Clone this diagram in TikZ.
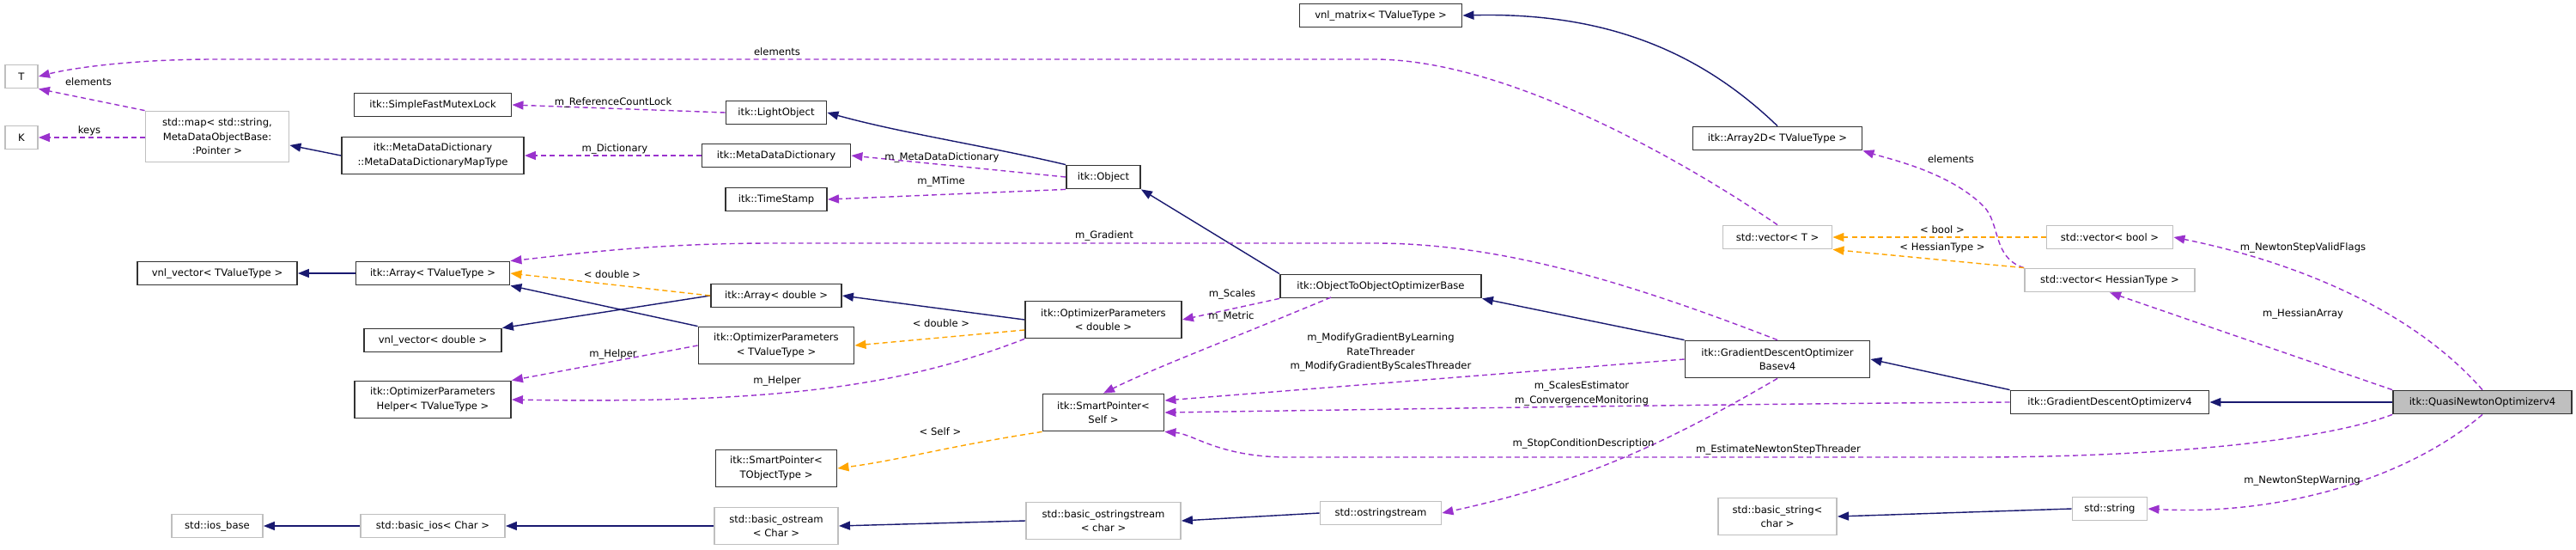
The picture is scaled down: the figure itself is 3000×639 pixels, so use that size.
\documentclass[tikz,border=0pt]{standalone}
\usepackage{fontspec}
\setmainfont{DejaVu Sans}
\usetikzlibrary{arrows.meta}
\definecolor{inhblue}{HTML}{191970}
\definecolor{usepurple}{HTML}{9A32CD}
\definecolor{tmplorange}{HTML}{FFA500}
\definecolor{stdgray}{HTML}{BFBFBF}
\definecolor{focusgray}{HTML}{BFBFBF}

\tikzset{
  cls/.style={draw=black!80,line width=0.5pt,fill=white,minimum height=0.27cm,inner sep=0pt,align=center,font=\fontsize{3.3}{4.7}\selectfont},
  stdcls/.style={cls,draw=stdgray},
  inh/.style={draw=inhblue,line width=0.4pt,-{Triangle[length=0.13cm,width=0.1cm]}},
  use/.style={draw=usepurple,line width=0.4pt,dash pattern=on 0.06cm off 0.04cm,-{Triangle[length=0.13cm,width=0.1cm,fill=usepurple]}},
  tmpl/.style={use,draw=tmplorange,-{Triangle[length=0.13cm,width=0.1cm,fill=tmplorange]}},
  lbl/.style={inner sep=0pt,align=center,font=\fontsize{3.3}{4.7}\selectfont}
}

\begin{document}
\begin{tikzpicture}[x=0.01cm,y=-0.01cm]
\useasboundingbox (0,0) rectangle (3000,639);

% classes, column by column
\node[stdcls,minimum width=0.38cm] (t) at (25,89) {T};
\node[stdcls,minimum width=0.38cm] (k) at (25,160) {K};
\node[stdcls,minimum width=1.67cm,minimum height=0.59cm] (stdmap) at (253,159) {std::map< std::string,\\ MetaDataObjectBase:\\:Pointer >};
\node[cls,minimum width=1.86cm] (vnlvectv) at (253,318) {vnl\_vector< TValueType >};
\node[stdcls,minimum width=1.06cm] (iosbase) at (253,612) {std::ios\_base};

\node[cls,minimum width=1.83cm] (mutexlock) at (504,122) {itk::SimpleFastMutexLock};
\node[cls,minimum width=2.12cm,minimum height=0.43cm] (mddmaptype) at (504,181) {itk::MetaDataDictionary\\::MetaDataDictionaryMapType};
\node[cls,minimum width=1.79cm] (arraytv) at (504,318) {itk::Array< TValueType >};
\node[cls,minimum width=1.60cm] (vnlvecd) at (504,396) {vnl\_vector< double >};
\node[cls,minimum width=1.82cm,minimum height=0.43cm] (ophelper) at (504,465) {itk::OptimizerParameters\\Helper< TValueType >};
\node[stdcls,minimum width=1.68cm] (basicios) at (504,612) {std::basic\_ios< Char >};

\node[cls,minimum width=1.17cm] (lightobj) at (904,131) {itk::LightObject};
\node[cls,minimum width=1.73cm] (mdd) at (904,181) {itk::MetaDataDictionary};
\node[cls,minimum width=1.18cm] (timestamp) at (904,232) {itk::TimeStamp};
\node[cls,minimum width=1.52cm] (arrayd) at (904,344) {itk::Array< double >};
\node[cls,minimum width=1.81cm,minimum height=0.43cm] (optv) at (904,402) {itk::OptimizerParameters\\< TValueType >};
\node[cls,minimum width=1.41cm,minimum height=0.43cm] (sptobj) at (904,545) {itk::SmartPointer<\\ TObjectType >};
\node[stdcls,minimum width=1.44cm,minimum height=0.43cm] (ostream) at (904,612) {std::basic\_ostream\\< Char >};

\node[cls,minimum width=0.86cm] (object) at (1285,206) {itk::Object};
\node[cls,minimum width=1.82cm,minimum height=0.43cm] (opd) at (1285,372) {itk::OptimizerParameters\\< double >};
\node[cls,minimum width=1.41cm,minimum height=0.43cm] (spself) at (1285,480) {itk::SmartPointer<\\ Self >};
\node[stdcls,minimum width=1.80cm,minimum height=0.43cm] (ostringb) at (1285,606) {std::basic\_ostringstream\\< char >};

\node[cls,minimum width=1.89cm] (vnlmatrix) at (1608,18) {vnl\_matrix< TValueType >};
\node[cls,minimum width=2.34cm] (otoob) at (1608,333) {itk::ObjectToObjectOptimizerBase};
\node[stdcls,minimum width=1.41cm] (ostrs) at (1608,597) {std::ostringstream};

\node[cls,minimum width=1.97cm] (array2d) at (2070,161) {itk::Array2D< TValueType >};
\node[stdcls,minimum width=1.27cm] (vect) at (2070,276) {std::vector< T >};
\node[cls,minimum width=2.15cm,minimum height=0.43cm] (gdobase) at (2070,418) {itk::GradientDescentOptimizer\\Basev4};
\node[stdcls,minimum width=1.38cm,minimum height=0.43cm] (basicstr) at (2070,601) {std::basic\_string<\\ char >};

\node[stdcls,minimum width=1.47cm] (vecbool) at (2457,276) {std::vector< bool >};
\node[stdcls,minimum width=1.98cm] (vechess) at (2457,326) {std::vector< HessianType >};
\node[cls,minimum width=2.31cm] (gdov4) at (2457,468) {itk::GradientDescentOptimizerv4};
\node[stdcls,minimum width=0.87cm] (stdstr) at (2457,592) {std::string};

\node[cls,fill=focusgray,minimum width=2.08cm] (quasinewton) at (2891,468) {itk::QuasiNewtonOptimizerv4};

% inheritance
\draw[inh] (mddmaptype.west) -- (stdmap.east |- 0,169);
\draw[inh] (vnlvectv.east -| arraytv.west) -- (vnlvectv.east);
\draw[inh] (basicios) -- (iosbase);
\draw[inh] (ostream.west) -- (basicios);
\draw[inh] (ostringb.west) -- (ostream.east);
\draw[inh] (ostrs.west) -- (ostringb.east);
\draw[inh] (stdstr.west) -- (basicstr.east);
\draw[inh] (arrayd.west) -- (vnlvecd.north east);
\draw[inh] (optv.north west) -- (arraytv.south east);
\draw[inh] (opd.west) -- (arrayd.east);
\draw[inh] (object.north west) .. controls (1150,170) and (1050,155) .. (lightobj.east);
\draw[inh] (otoob.north west) -- (object.south east);
\draw[inh] (gdobase.north west) -- (otoob.south east);
\draw[inh] (gdov4.north west) -- (gdobase.east);
\draw[inh] (quasinewton) -- (gdov4);
\draw[inh] (array2d.north) .. controls (1980,60) and (1870,14) .. (vnlmatrix.east);

% members
\draw[use] (stdmap.north west) -- (t.south east);
\draw[use] (stdmap.west |- k) -- (k);
\draw[use] (vect.north) .. controls (1950,180) and (1750,69) .. (1600,69) -- (250,69) .. controls (150,69) and (80,80) .. (t.east);
\draw[use] (lightobj.west) -- (mutexlock.east);
\draw[use] (mdd.west) -- (mddmaptype.east);
\draw[use] (object.west) -- (mdd.east);
\draw[use] (object.south west) -- (timestamp.east);
\draw[use] (gdobase.north) .. controls (1900,330) and (1750,283) .. (1600,283) -- (900,283) .. controls (750,283) and (650,298) .. (arraytv.north east);
\draw[use] (optv.west) -- (ophelper.north east);
\draw[use] (opd.south west) .. controls (1050,450) and (900,470) .. (ophelper.east);
\draw[use] (otoob.south west) -- (opd.east);
\draw[use] (1550,346) .. controls (1420,400) and (1340,430) .. (spself.north);
\draw[use] (gdobase.west) -- (spself.east |- 0,466);
\draw[use] (gdov4.west) .. controls (2000,470) and (1500,478) .. (spself.east);
\draw[use] (quasinewton.south west) .. controls (2700,515) and (2500,532) .. (2300,532) -- (1500,532) .. controls (1420,532) and (1390,505) .. (spself.south east);
\draw[use] (gdobase.south) .. controls (1950,510) and (1850,560) .. (ostrs.east);
\draw[use] (vechess.north west) .. controls (2320,300) and (2330,260) .. (2310,240) .. controls (2270,200) and (2200,185) .. (array2d.south east);
\draw[use] (quasinewton.north) .. controls (2800,350) and (2650,300) .. (vecbool.east);
\draw[use] (quasinewton.north west) -- (vechess.south);
\draw[use] (quasinewton.south) .. controls (2800,560) and (2650,600) .. (stdstr.east);

% template instances
\draw[tmpl] (arrayd.west) -- (arraytv.east);
\draw[tmpl] (opd.west |- 0,384) -- (optv.east);
\draw[tmpl] (spself.south west) .. controls (1100,520) and (1050,535) .. (sptobj.east);
\draw[tmpl] (vecbool) -- (vect);
\draw[tmpl] (vechess.north west) -- (vect.south east);

% labels
\node[lbl] (lelemt) at (103,95) {elements};
\node[lbl] (lkeys) at (104,152) {keys};
\node[lbl] (lelemvec) at (905,60) {elements};
\node[lbl] (lreflock) at (714,119) {m\_ReferenceCountLock};
\node[lbl] (ldict) at (716,173) {m\_Dictionary};
\node[lbl] (lmdd) at (1097,183) {m\_MetaDataDictionary};
\node[lbl] (lmtime) at (1096,211) {m\_MTime};
\node[lbl] (lgrad) at (1286,274) {m\_Gradient};
\node[lbl] (ldblarr) at (713,319) {< double >};
\node[lbl] (ldblop) at (1096,376) {< double >};
\node[lbl] (lhelp1) at (714,412) {m\_Helper};
\node[lbl] (lhelp2) at (905,443) {m\_Helper};
\node[lbl] (lscales) at (1435,342) {m\_Scales};
\node[lbl] (lmetric) at (1434,368) {m\_Metric};
\node[lbl] (lself) at (1095,502) {< Self >};
\node[lbl] (lmodify) at (1608,410) {m\_ModifyGradientByLearning\\RateThreader\\m\_ModifyGradientByScalesThreader};
\node[lbl] (lscalesest) at (1842,458) {m\_ScalesEstimator\\m\_ConvergenceMonitoring};
\node[lbl] (lstop) at (1844,516) {m\_StopConditionDescription};
\node[lbl] (lestimate) at (2071,523) {m\_EstimateNewtonStepThreader};
\node[lbl] (lelemhess) at (2272,185) {elements};
\node[lbl] (lbool) at (2262,267) {< bool >};
\node[lbl] (lhesstype) at (2262,288) {< HessianType >};
\node[lbl] (lvalid) at (2682,288) {m\_NewtonStepValidFlags};
\node[lbl] (lhessarr) at (2682,365) {m\_HessianArray};
\node[lbl] (lwarn) at (2681,559) {m\_NewtonStepWarning};
\end{tikzpicture}
\end{document}
